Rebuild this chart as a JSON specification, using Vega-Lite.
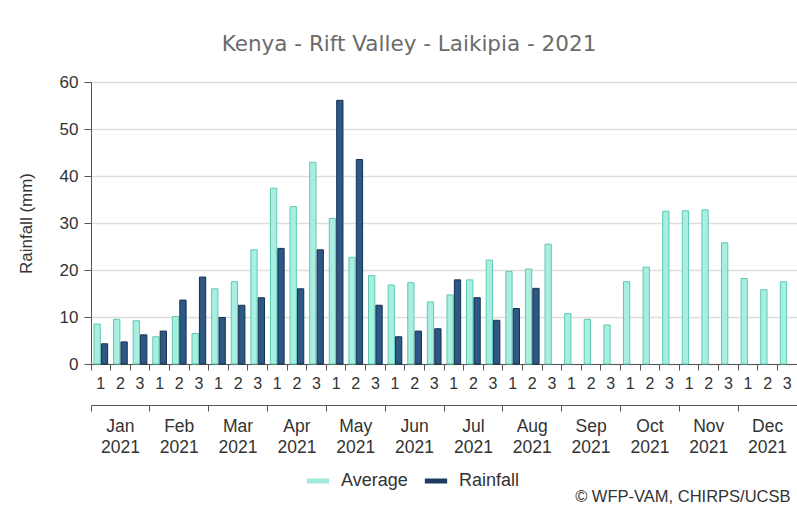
{
  "$schema": "https://vega.github.io/schema/vega-lite/v6.json",
  "width": 706,
  "height": 282,
  "autosize": "none",
  "padding": {"left": 91, "top": 82, "right": 0, "bottom": 147},
  "background": "white",
  "config": {
    "font": "Liberation Sans",
    "view": {"stroke": null},
    "axis": {"labelFont": "Liberation Sans", "titleFont": "Liberation Sans"}
  },
  "title": {
    "text": "Kenya - Rift Valley - Laikipia - 2021",
    "font": "DejaVu Sans",
    "fontSize": 21.5,
    "fontWeight": "normal",
    "color": "#6b6b6b",
    "anchor": "middle",
    "dx": -35,
    "offset": 18
  },
  "data": {
    "values": [
      {"i":1,"s":"Average","v":8.5},{"i":2,"s":"Average","v":9.5},{"i":3,"s":"Average","v":9.2},
      {"i":4,"s":"Average","v":5.8},{"i":5,"s":"Average","v":10.1},{"i":6,"s":"Average","v":6.5},
      {"i":7,"s":"Average","v":16.0},{"i":8,"s":"Average","v":17.5},{"i":9,"s":"Average","v":24.3},
      {"i":10,"s":"Average","v":37.4},{"i":11,"s":"Average","v":33.5},{"i":12,"s":"Average","v":42.9},
      {"i":13,"s":"Average","v":31.0},{"i":14,"s":"Average","v":22.7},{"i":15,"s":"Average","v":18.8},
      {"i":16,"s":"Average","v":16.8},{"i":17,"s":"Average","v":17.3},{"i":18,"s":"Average","v":13.2},
      {"i":19,"s":"Average","v":14.7},{"i":20,"s":"Average","v":17.9},{"i":21,"s":"Average","v":22.1},
      {"i":22,"s":"Average","v":19.7},{"i":23,"s":"Average","v":20.2},{"i":24,"s":"Average","v":25.5},
      {"i":25,"s":"Average","v":10.7},{"i":26,"s":"Average","v":9.5},{"i":27,"s":"Average","v":8.3},
      {"i":28,"s":"Average","v":17.5},{"i":29,"s":"Average","v":20.6},{"i":30,"s":"Average","v":32.5},
      {"i":31,"s":"Average","v":32.6},{"i":32,"s":"Average","v":32.8},{"i":33,"s":"Average","v":25.8},
      {"i":34,"s":"Average","v":18.2},{"i":35,"s":"Average","v":15.8},{"i":36,"s":"Average","v":17.5},
      {"i":1,"s":"Rainfall","v":4.3},{"i":2,"s":"Rainfall","v":4.7},{"i":3,"s":"Rainfall","v":6.2},
      {"i":4,"s":"Rainfall","v":7.0},{"i":5,"s":"Rainfall","v":13.6},{"i":6,"s":"Rainfall","v":18.5},
      {"i":7,"s":"Rainfall","v":9.9},{"i":8,"s":"Rainfall","v":12.5},{"i":9,"s":"Rainfall","v":14.1},
      {"i":10,"s":"Rainfall","v":24.6},{"i":11,"s":"Rainfall","v":16.0},{"i":12,"s":"Rainfall","v":24.3},
      {"i":13,"s":"Rainfall","v":56.1},{"i":14,"s":"Rainfall","v":43.5},{"i":15,"s":"Rainfall","v":12.5},
      {"i":16,"s":"Rainfall","v":5.8},{"i":17,"s":"Rainfall","v":7.0},{"i":18,"s":"Rainfall","v":7.5},
      {"i":19,"s":"Rainfall","v":17.9},{"i":20,"s":"Rainfall","v":14.1},{"i":21,"s":"Rainfall","v":9.3},
      {"i":22,"s":"Rainfall","v":11.8},{"i":23,"s":"Rainfall","v":16.1}
    ]
  },
  "resolve": {"axis": {"x": "independent"}},
  "layer": [
    {
      "mark": {"type": "bar", "strokeWidth": 1},
      "encoding": {
        "x": {
          "field": "i", "type": "ordinal",
          "scale": {"paddingInner": 0, "paddingOuter": 0},
          "axis": {
            "orient": "bottom",
            "title": null,
            "labelAngle": 0,
            "bandPosition": 0,
            "labelExpr": "(datum.value - 1) % 3 + 1",
            "labelFontSize": 16,
            "labelColor": "#333333",
            "labelPadding": 5,
            "domainColor": "#555555",
            "tickColor": "#555555",
            "tickSize": 6,
            "grid": false
          }
        },
        "xOffset": {
          "field": "s", "type": "nominal",
          "scale": {"domain": ["Average", "Rainfall"], "paddingInner": 0.15, "paddingOuter": 0.4}
        },
        "y": {
          "field": "v", "type": "quantitative",
          "scale": {"domain": [0, 60]},
          "axis": {
            "title": "Rainfall (mm)",
            "titleFontSize": 17,
            "titleFontWeight": "normal",
            "titleColor": "#333333",
            "titlePadding": 24,
            "values": [0, 10, 20, 30, 40, 50, 60],
            "labelFontSize": 17,
            "labelColor": "#333333",
            "labelPadding": 6,
            "domainColor": "#555555",
            "tickColor": "#555555",
            "tickSize": 7,
            "gridColor": "#dddddd",
            "gridWidth": 1.5
          }
        },
        "color": {
          "field": "s", "type": "nominal",
          "scale": {"domain": ["Average", "Rainfall"], "range": ["#a8efe2", "#2d5886"]},
          "legend": {
            "title": null,
            "orient": "none",
            "legendX": 213,
            "legendY": 385,
            "direction": "horizontal",
            "symbolType": "stroke",
            "symbolStrokeWidth": 5,
            "symbolSize": 500,
            "symbolStrokeColor": {"expr": "datum.value === 'Average' ? '#9feadd' : '#1d3b60'"},
            "labelFontSize": 18,
            "labelColor": "#333333",
            "labelOffset": 9,
            "columnPadding": 6
          }
        },
        "stroke": {
          "condition": {"test": "datum.s === 'Average'", "value": "#5ec9b1"},
          "value": "#16304f"
        }
      }
    },
    {
      "mark": {"type": "text", "opacity": 0},
      "encoding": {
        "x": {
          "field": "i", "type": "ordinal",
          "axis": {
            "orient": "bottom",
            "offset": 41,
            "values": [1, 4, 7, 10, 13, 16, 19, 22, 25, 28, 31, 34],
            "bandPosition": 0,
            "labelOffset": 19.6,
            "labelAngle": 0,
            "labelExpr": "[['Jan','Feb','Mar','Apr','May','Jun','Jul','Aug','Sep','Oct','Nov','Dec'][floor((datum.value - 1) / 3)], '2021']",
            "labelFontSize": 17.5,
            "labelColor": "#333333",
            "labelPadding": 6,
            "labelLineHeight": 21,
            "domainColor": "#555555",
            "tickColor": "#555555",
            "tickSize": 6,
            "grid": false,
            "title": "© WFP-VAM, CHIRPS/UCSB",
            "titleAnchor": "end",
            "titleFontSize": 16.5,
            "titleFontWeight": "normal",
            "titleColor": "#333333",
            "titlePadding": 33,
            "titleX": 699
          }
        },
        "text": {"value": ""}
      }
    }
  ]
}
